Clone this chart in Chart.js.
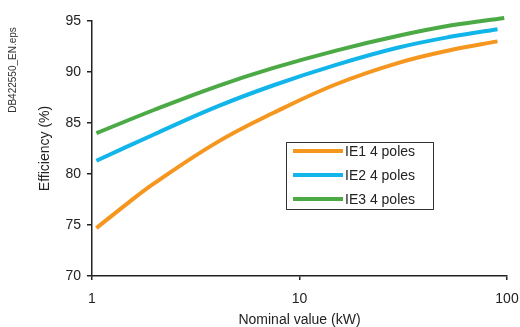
<!DOCTYPE html>
<html><head><meta charset="utf-8">
<script src="https://cdn.jsdelivr.net/npm/chart.js@4/dist/chart.umd.min.js"></script>
<style>html,body{margin:0;padding:0;background:#fff}#wrap{width:520px;height:327px}</style>
</head><body><div id="wrap"><canvas id="c" width="520" height="327"></canvas></div>
<script>
const seriesLabels = ['IE1 4 poles', 'IE2 4 poles', 'IE3 4 poles'];
const ie1Kw = [1.05, 1.5, 2, 4, 7.5, 15, 30, 55, 90];
const ie1Eff = [74.7, 77.2, 79.1, 83.1, 86.0, 88.8, 90.9, 92.2, 93.0];
const ie2Kw = [1.05, 2, 4, 7.5, 15, 30, 55, 90];
const ie2Eff = [81.3, 83.9, 86.6, 88.7, 90.7, 92.4, 93.5, 94.2];
const ie3Kw = [1.05, 2, 4, 7.5, 15, 30, 55, 97];
const ie3Eff = [84.0, 86.3, 88.6, 90.4, 92.1, 93.55, 94.6, 95.3];
const xTicks = [1, 10, 100];
const yTicks = [70, 75, 80, 85, 90, 95];
const sideNote = 'DB422550_EN.eps';

const colors = ['#F5961E', '#12B5E9', '#4CAA46'];
const FONT = '"Liberation Sans", Arial, sans-serif';

function pts(xs, ys) { return xs.map((x, i) => ({x: x, y: ys[i]})); }

const datasets = [[ie1Kw, ie1Eff], [ie2Kw, ie2Eff], [ie3Kw, ie3Eff]].map((s, i) => ({
  label: seriesLabels[i],
  data: pts(s[0], s[1]),
  borderColor: colors[i],
  backgroundColor: colors[i],
  borderWidth: 4,
  pointRadius: 0,
  showLine: true,
  tension: 0.4,
  clip: false
}));

const legendBox = {
  id: 'legendBox',
  afterDatasetsDraw(chart) {
    const ctx = chart.ctx;
    ctx.save();
    const bx = 286.5, by = 142.5, bw = 147, bh = 67;
    ctx.strokeStyle = '#333';
    ctx.lineWidth = 1;
    ctx.fillStyle = '#fff';
    ctx.fillRect(bx, by, bw, bh);
    ctx.strokeRect(bx, by, bw, bh);
    const rows = [151, 175, 199];
    chart.data.datasets.forEach((d, i) => {
      ctx.strokeStyle = d.borderColor;
      ctx.lineWidth = 4;
      ctx.beginPath();
      ctx.moveTo(293, rows[i]);
      ctx.lineTo(343, rows[i]);
      ctx.stroke();
      ctx.fillStyle = '#222';
      ctx.font = '14px ' + FONT;
      ctx.textBaseline = 'middle';
      ctx.textAlign = 'left';
      ctx.fillText(d.label, 345, rows[i] + 1);
    });
    ctx.translate(13, 70);
    ctx.rotate(-Math.PI / 2);
    ctx.font = '10px ' + FONT;
    ctx.fillStyle = '#333';
    ctx.textAlign = 'center';
    ctx.textBaseline = 'middle';
    ctx.fillText(sideNote, 0, 0);
    ctx.restore();
  }
};

new Chart(document.getElementById('c'), {
  type: 'scatter',
  data: { datasets: datasets },
  options: {
    responsive: false,
    animation: false,
    devicePixelRatio: 1,
    layout: { padding: { top: 21, right: 13, left: 37, bottom: 0 } },
    plugins: { legend: { display: false }, tooltip: { enabled: false } },
    scales: {
      x: {
        type: 'logarithmic',
        min: 1, max: 100,
        afterBuildTicks(scale) { scale.ticks = xTicks.map(v => ({value: v})); },
        grid: { display: true, drawOnChartArea: false, drawTicks: true, tickLength: 4, color: '#222', lineWidth: 1.5 },
        border: { display: true, color: '#222', width: 1.5 },
        ticks: { color: '#222', font: { family: FONT, size: 14 }, padding: 11, callback: v => String(v), maxRotation: 0, autoSkip: false },
        title: { display: true, text: 'Nominal value (kW)', color: '#222', font: { family: FONT, size: 14 }, padding: { top: 0, bottom: -2 } },
        afterFit(scale) { scale.height = 51; scale.paddingLeft = 0; scale.paddingRight = 0; }
      },
      y: {
        min: 70, max: 95,
        afterBuildTicks(scale) { scale.ticks = yTicks.map(v => ({value: v})); },
        grid: { display: true, drawOnChartArea: false, drawTicks: true, tickLength: 5, color: '#222', lineWidth: 1.5 },
        border: { display: true, color: '#222', width: 1.5 },
        ticks: { color: '#222', font: { family: FONT, size: 14 }, padding: 6 },
        title: { display: true, text: 'Efficiency (%)', color: '#222', font: { family: FONT, size: 14 }, padding: { top: 0, bottom: 0 } },
        afterFit(scale) { scale.width = 55; scale.paddingTop = 0; scale.paddingBottom = 0; }
      }
    }
  },
  plugins: [legendBox]
});
</script>
</body></html>
